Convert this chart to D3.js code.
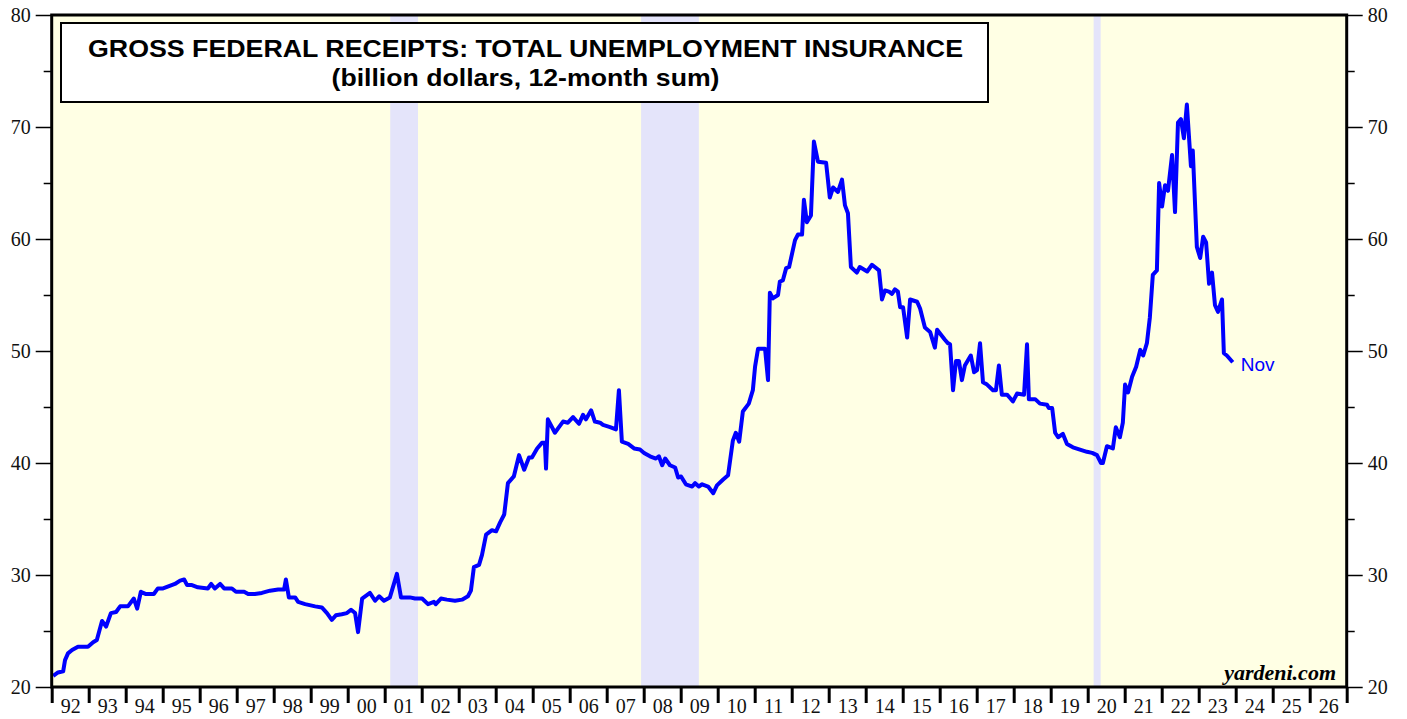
<!DOCTYPE html>
<html>
<head>
<meta charset="utf-8">
<script src="https://cdn.jsdelivr.net/npm/d3@7"></script>
<style>
  body { margin: 0; background: #fff; }
  svg { display: block; }
</style>
</head>
<body>
<svg id="chart" width="1407" height="719"></svg>
<script>
// decimal years (month end) and values
let dates = [
  1992.04, 1992.17, 1992.31, 1992.36, 1992.44, 1992.55, 1992.71, 1992.98,
  1993.12, 1993.22, 1993.36, 1993.47, 1993.60, 1993.74, 1993.85,
  1994.06, 1994.22, 1994.31, 1994.41, 1994.55, 1994.76, 1994.87,
  1995.01, 1995.17, 1995.33, 1995.47, 1995.58, 1995.66, 1995.79, 1995.95,
  1996.22, 1996.31, 1996.41, 1996.55, 1996.66, 1996.87, 1996.98,
  1997.20, 1997.31, 1997.49, 1997.68, 1997.90,
  1998.12, 1998.28, 1998.33, 1998.41, 1998.58, 1998.66, 1998.85,
  1999.12, 1999.30, 1999.44, 1999.57, 1999.68, 1999.84, 1999.98,
  2000.09, 2000.20, 2000.28, 2000.39, 2000.60, 2000.74, 2000.85, 2000.98,
  2001.14, 2001.33, 2001.44, 2001.68, 2001.82,
  2002.01, 2002.17, 2002.33, 2002.38, 2002.52, 2002.68, 2002.90,
  2003.09, 2003.25, 2003.33, 2003.41, 2003.55, 2003.63, 2003.74, 2003.90,
  2004.01, 2004.12, 2004.23, 2004.33, 2004.49, 2004.63, 2004.77, 2004.90, 2004.98,
  2005.12, 2005.25, 2005.33, 2005.36, 2005.41, 2005.60, 2005.71, 2005.82, 2005.95,
  2006.09, 2006.25, 2006.36, 2006.44, 2006.58, 2006.68, 2006.82, 2006.90,
  2007.09, 2007.25, 2007.33, 2007.41, 2007.58, 2007.74, 2007.90,
  2008.01, 2008.17, 2008.33, 2008.41, 2008.50, 2008.58, 2008.71, 2008.85, 2008.93,
  2009.01, 2009.14, 2009.31, 2009.39, 2009.49, 2009.58, 2009.74, 2009.88, 2009.98,
  2010.14, 2010.28, 2010.41, 2010.49, 2010.58, 2010.68, 2010.84, 2010.95,
  2011.01, 2011.09, 2011.28, 2011.36, 2011.41, 2011.49, 2011.63, 2011.68, 2011.76, 2011.85, 2011.93,
  2012.09, 2012.17, 2012.28, 2012.33, 2012.41, 2012.52, 2012.60, 2012.71, 2012.93,
  2013.03, 2013.12, 2013.25, 2013.36, 2013.44, 2013.52, 2013.60, 2013.76, 2013.84,
  2014.04, 2014.17, 2014.36, 2014.44, 2014.52, 2014.63, 2014.71, 2014.79, 2014.87, 2014.93,
  2015.01, 2015.12, 2015.20, 2015.39, 2015.47, 2015.60, 2015.74, 2015.87, 2015.93,
  2016.14, 2016.22, 2016.28, 2016.36, 2016.44, 2016.52, 2016.60, 2016.68, 2016.84, 2016.93,
  2017.01, 2017.09, 2017.17, 2017.28, 2017.44, 2017.52, 2017.60, 2017.68, 2017.82, 2017.90, 2017.98,
  2018.09, 2018.28, 2018.36, 2018.41, 2018.58, 2018.71, 2018.90, 2018.95,
  2019.04, 2019.12, 2019.20, 2019.33, 2019.44, 2019.60, 2019.79, 2019.98,
  2020.12, 2020.25, 2020.36, 2020.41, 2020.52, 2020.68, 2020.76, 2020.87, 2020.95,
  2021.01, 2021.09, 2021.20, 2021.31, 2021.42, 2021.50, 2021.60, 2021.68, 2021.76, 2021.87, 2021.93,
  2022.01, 2022.09, 2022.17, 2022.28, 2022.36, 2022.44, 2022.52, 2022.60, 2022.68, 2022.79, 2022.84, 2022.95,
  2023.04, 2023.12, 2023.20, 2023.28, 2023.36, 2023.44, 2023.52, 2023.63, 2023.68, 2023.76, 2023.92
];
let receipts = [
  21.0, 21.3, 21.4, 22.4, 23.0, 23.3, 23.6, 23.6,
  24.0, 24.2, 25.9, 25.4, 26.6, 26.7, 27.2,
  27.2, 27.9, 27.0, 28.5, 28.3, 28.3, 28.8,
  28.8, 29.0, 29.2, 29.5, 29.6, 29.1, 29.1, 28.9,
  28.8, 29.2, 28.8, 29.2, 28.8, 28.8, 28.5,
  28.5, 28.3, 28.3, 28.4, 28.6,
  28.7, 28.7, 29.6, 28.0, 28.0, 27.6, 27.4,
  27.2, 27.1, 26.6, 26.0, 26.4, 26.5, 26.6,
  26.9, 26.6, 24.9, 27.9, 28.4, 27.7, 28.1, 27.7,
  28.0, 30.1, 28.0, 28.0, 27.9,
  27.9, 27.4, 27.6, 27.4, 27.9, 27.8, 27.7,
  27.8, 28.1, 28.6, 30.7, 30.9, 31.8, 33.6, 34.0,
  33.9, 34.7, 35.4, 38.2, 38.8, 40.7, 39.4, 40.5, 40.5,
  41.3, 41.8, 41.8, 39.5, 43.9, 42.7, 43.2, 43.7, 43.6,
  44.1, 43.5, 44.3, 43.9, 44.7, 43.7, 43.6, 43.4,
  43.2, 43.0, 46.5, 41.9, 41.7, 41.3, 41.2,
  40.9, 40.6, 40.4, 40.6, 39.8, 40.4, 39.8, 39.6, 38.7,
  38.8, 38.1, 37.9, 38.2, 37.9, 38.1, 37.9, 37.3, 38.0,
  38.5, 38.9, 42.0, 42.7, 41.9, 44.6, 45.3, 46.5,
  48.6, 50.2, 50.2, 47.4, 55.2, 54.7, 55.0, 56.2, 56.3, 57.4, 57.5,
  59.9, 60.4, 60.4, 63.5, 61.5, 62.1, 68.7, 66.9, 66.8,
  63.7, 64.6, 64.2, 65.3, 63.0, 62.3, 57.5, 57.0, 57.5,
  57.1, 57.7, 57.2, 54.6, 55.4, 55.3, 55.1, 55.5, 55.3, 53.9,
  53.9, 51.2, 54.6, 54.4, 53.8, 52.1, 51.7, 50.3, 51.9,
  51.0, 50.7, 50.6, 46.5, 49.1, 49.1, 47.4, 48.7, 49.6, 48.1,
  48.3, 50.7, 47.2, 47.0, 46.5, 46.5, 48.7, 46.1, 46.1, 45.8, 45.5,
  46.2, 46.1, 50.6, 45.7, 45.7, 45.3, 45.2, 44.9,
  44.9, 42.7, 42.3, 42.6, 41.7, 41.4, 41.2, 41.0,
  40.9, 40.7, 40.0, 40.0, 41.5, 41.3, 43.2, 42.3, 43.6,
  47.0, 46.3, 47.7, 48.6, 50.1, 49.6, 50.7, 53.0, 56.8, 57.2, 65.0,
  62.9, 64.8, 64.3, 67.5, 62.4, 70.4, 70.7, 69.0, 72.0, 66.5, 67.9, 59.3,
  58.3, 60.2, 59.7, 56.0, 57.0, 54.1, 53.5, 54.6, 49.8, 49.6, 49.0
];
let recessions = [[2001.15, 2001.9], [2007.93, 2009.49], [2020.16, 2020.35]];
let years = d3.range(1992, 2027);
let yMajor = [20, 30, 40, 50, 60, 70, 80];
let yMinor = [25, 35, 45, 55, 65, 75];
let titleLines = ['GROSS FEDERAL RECEIPTS: TOTAL UNEMPLOYMENT INSURANCE', '(billion dollars, 12-month sum)'];
let lastLabel = 'Nov';

let svg = d3.select('#chart');
let plotLeft = 51.7, plotRight = 1346.7, plotTop = 15, plotBottom = 687;

let x = d3.scaleLinear().domain([1992, 2027]).range([plotLeft, plotRight]);
let y = d3.scaleLinear().domain([20, 80]).range([plotBottom, plotTop]);

// plot background
svg.append('rect')
  .attr('x', plotLeft).attr('y', plotTop)
  .attr('width', plotRight - plotLeft).attr('height', plotBottom - plotTop)
  .style('fill', '#ffffe4');

// recession bands
svg.selectAll('.rec').data(recessions).enter().append('rect')
  .attr('x', d => x(d[0]))
  .attr('y', plotTop)
  .attr('width', d => x(d[1]) - x(d[0]))
  .attr('height', plotBottom - plotTop)
  .style('fill', '#e4e4fa');

// title box
svg.append('rect')
  .attr('x', 61).attr('y', 23).attr('width', 927).attr('height', 79)
  .style('fill', '#fff').style('stroke', '#000').style('stroke-width', 2);
let titleWidths = [875, 388];
svg.selectAll('.title').data(titleLines).enter().append('text')
  .attr('x', (d, i) => 525.5 - titleWidths[i] / 2).attr('y', (d, i) => 57 + i * 29)
  .attr('textLength', (d, i) => titleWidths[i])
  .attr('lengthAdjust', 'spacingAndGlyphs')
  .style('font-family', 'Liberation Sans, Arial, sans-serif')
  .style('font-weight', 'bold')
  .style('font-size', '24px')
  .text(d => d);

// series line
let pts = dates.map((d, i) => [d, receipts[i]]);
let line = d3.line().x(d => x(d[0])).y(d => y(d[1]));
svg.append('path')
  .datum(pts)
  .attr('d', line)
  .style('fill', 'none')
  .style('stroke', '#0000ff')
  .style('stroke-width', 4)
  .style('stroke-linejoin', 'round');

let last = pts[pts.length - 1];
svg.append('text')
  .attr('x', x(last[0]) + 8).attr('y', y(last[1]) + 9)
  .style('font-family', 'Liberation Sans, Arial, sans-serif')
  .style('font-size', '19px')
  .style('fill', '#0000ff')
  .text(lastLabel);

svg.append('text')
  .attr('x', 1336).attr('y', 680)
  .attr('text-anchor', 'end')
  .style('font-family', 'Liberation Serif, Times New Roman, serif')
  .style('font-weight', 'bold')
  .style('font-style', 'italic')
  .style('font-size', '22px')
  .text('yardeni.com');

// axes
let serif = 'Liberation Serif, Times New Roman, serif';
function styleAxis(g) {
  g.select('.domain').remove();
  g.selectAll('line').style('stroke', '#000').style('stroke-width', 1.5);
  g.selectAll('text').style('font-family', serif).style('font-size', '20px').style('fill', '#111');
}

svg.append('g').attr('transform', `translate(${plotLeft},0)`)
  .call(d3.axisLeft(y).tickValues(yMajor).tickSize(16).tickPadding(5).tickFormat(d3.format('d')))
  .call(styleAxis);
svg.append('g').attr('transform', `translate(${plotLeft},0)`)
  .call(d3.axisLeft(y).tickValues(yMinor).tickSize(8).tickFormat(''))
  .call(styleAxis);
svg.append('g').attr('transform', `translate(${plotRight},0)`)
  .call(d3.axisRight(y).tickValues(yMajor).tickSize(16).tickPadding(5).tickFormat(d3.format('d')))
  .call(styleAxis);
svg.append('g').attr('transform', `translate(${plotRight},0)`)
  .call(d3.axisRight(y).tickValues(yMinor).tickSize(8).tickFormat(''))
  .call(styleAxis);

// year ticks and labels between them
svg.append('g').attr('transform', `translate(0,${plotBottom})`)
  .call(d3.axisBottom(x).tickValues(years.concat([2027])).tickSize(16).tickFormat(''))
  .call(styleAxis)
  .selectAll('line').style('stroke-width', 3);
svg.append('g').attr('transform', `translate(0,${plotBottom})`)
  .call(d3.axisBottom(x).tickValues(years.map(d => d + 0.5)).tickSize(0).tickPadding(12)
    .tickFormat(d => String(Math.floor(d) % 100).padStart(2, '0')))
  .call(styleAxis);

// frame
svg.append('rect')
  .attr('x', plotLeft).attr('y', plotTop)
  .attr('width', plotRight - plotLeft).attr('height', plotBottom - plotTop)
  .style('fill', 'none').style('stroke', '#000').style('stroke-width', 3);
</script>
</body>
</html>
